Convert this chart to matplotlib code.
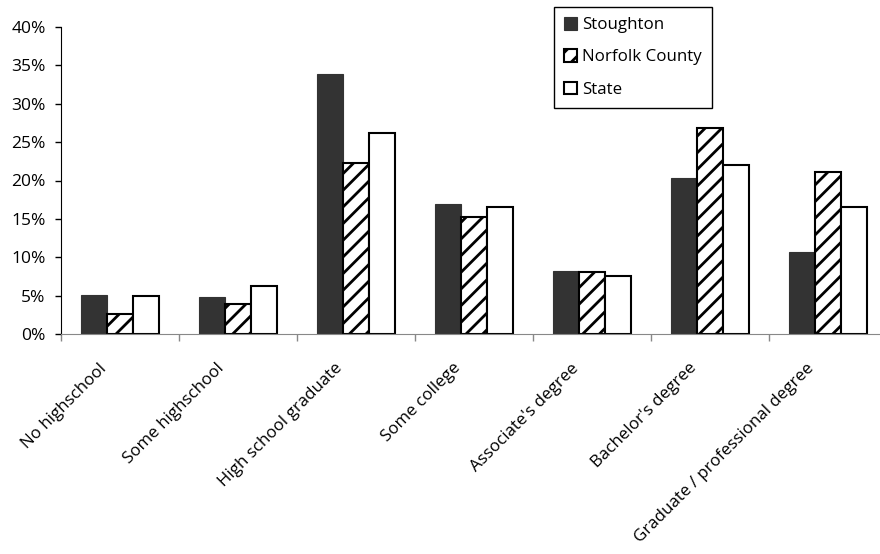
import numpy as np
import matplotlib
matplotlib.use("Agg")
from matplotlib import pyplot as plt
from matplotlib.ticker import FuncFormatter, FixedLocator

plt.rcParams['font.family'] = ['Open Sans', 'DejaVu Sans']
plt.rcParams['hatch.linewidth'] = 2.0

# Educational attainment, share of population 25+
categorias = ['No highschool', 'Some highschool', 'High school graduate',
              'Some college', "Associate's degree", "Bachelor's degree",
              'Graduate / professional degree']
stoughton = [5.1, 4.8, 33.9, 17.0, 8.2, 20.3, 10.7]
norfolk = [2.6, 3.9, 22.3, 15.3, 8.1, 26.8, 21.1]
estado = [4.9, 6.2, 26.2, 16.5, 7.6, 22.0, 16.5]
y_ticks = [0, 5, 10, 15, 20, 25, 30, 35, 40]

fig = plt.figure(figsize=(8.8, 5.54), dpi=100)
ax = fig.add_axes([61 / 880, 1 - 334 / 554, 826 / 880, 307 / 554])

x = np.arange(len(categorias))
w = 1 / 4.5  # gap width 150%

ax.bar(x - w, stoughton, w, color='#333333', edgecolor='#333333', linewidth=0.8,
       label='Stoughton')
ax.bar(x, norfolk, w, color='white', edgecolor='black', linewidth=1.5,
       hatch='//', label='Norfolk County')
ax.bar(x + w, estado, w, color='white', edgecolor='black', linewidth=1.5,
       label='State')

ax.set_xlim(-0.5, len(categorias) - 0.5)
ax.set_ylim(0, 40)
ax.set_yticks(y_ticks)
ax.yaxis.set_major_formatter(FuncFormatter(lambda v, p: '%d%%' % v))

# rotulos um pouco a esquerda do centro, tracinhos entre as categorias
ax.set_xticks(x - 0.135)
ax.set_xticklabels(categorias, rotation=45, ha='right', va='center',
                   rotation_mode='anchor', fontsize=12.2)
ax.xaxis.set_minor_locator(FixedLocator(np.arange(-0.5, len(categorias), 1)))
ax.tick_params(axis='x', which='major', length=0, pad=23)
ax.tick_params(axis='x', which='minor', length=5, color='#888888', width=1)
ax.tick_params(axis='y', length=4, width=1, labelsize=12.5, pad=7)

for s in ['top', 'right']:
    ax.spines[s].set_visible(False)
ax.spines['bottom'].set_color('#888888')
ax.spines['left'].set_color('black')

leg = ax.legend(loc='upper left', bbox_to_anchor=(554 / 880, 1 - 7 / 554),
                bbox_transform=fig.transFigure, fontsize=12.2, frameon=True,
                fancybox=False, edgecolor='black', framealpha=1,
                handlelength=0.75, handleheight=0.75, handletextpad=0.3,
                labelspacing=0.95, borderpad=0.6, borderaxespad=0)
leg.get_frame().set_linewidth(1.0)

fig.savefig('out.png', dpi=100)
